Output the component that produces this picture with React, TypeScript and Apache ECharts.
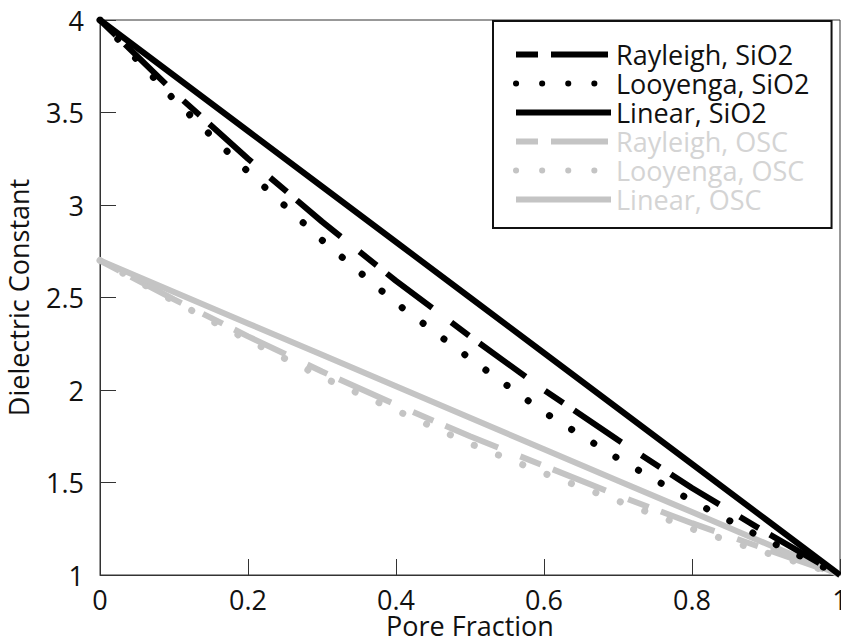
import React, { useEffect, useRef } from "react";
import * as echarts from "echarts";

const poreFraction = [0, 0.1, 0.2, 0.3, 0.4, 0.5, 0.6, 0.7, 0.8, 0.9, 1];
const rayleighSiO2 = [4, 3.61, 3.25, 2.91, 2.59, 2.29, 2.0, 1.73, 1.47, 1.23, 1];
const looyengaSiO2 = [4, 3.57, 3.18, 2.81, 2.47, 2.17, 1.88, 1.63, 1.4, 1.19, 1];
const linearSiO2 = [4, 3.7, 3.4, 3.1, 2.8, 2.5, 2.2, 1.9, 1.6, 1.3, 1];
const rayleighOSC = [2.7, 2.49, 2.29, 2.1, 1.92, 1.75, 1.59, 1.43, 1.28, 1.14, 1];
const looyengaOSC = [2.7, 2.48, 2.27, 2.07, 1.89, 1.71, 1.55, 1.4, 1.25, 1.12, 1];
const linearOSC = [2.7, 2.53, 2.36, 2.19, 2.02, 1.85, 1.68, 1.51, 1.34, 1.17, 1];

const seriesNames = [
  "Rayleigh, SiO2",
  "Looyenga, SiO2",
  "Linear, SiO2",
  "Rayleigh, OSC",
  "Looyenga, OSC",
  "Linear, OSC",
];

const FONT = "'Open Sans', 'Liberation Sans', sans-serif";
const BLACK = "#000000";
const GRAY = "#c4c4c4";
const GRAY_TEXT = "#d4d4d4";

const pairs = (ys: number[]) => poreFraction.map((x, i) => [x, ys[i]]);

export default function App() {
  const ref = useRef<HTMLDivElement>(null);
  useEffect(() => {
    if (!ref.current) return;
    const chart = echarts.init(ref.current, undefined, { renderer: "svg" });
    const rayleighDash = [22, 13, 57, 24];
    const dotDash = [0.1, 26];
    const mk = (name: string, ys: number[], color: string, type: any, cap: string, width: number) => ({
      name,
      type: "line",
      data: pairs(ys),
      symbol: "none",
      symbolSize: 0,
      showSymbol: false,
      lineStyle: { color, width, type, cap },
      itemStyle: { color },
      z: color === BLACK ? 3 : 2,
    });
    chart.setOption({
      animation: false,
      backgroundColor: "#ffffff",
      grid: {
        left: 100,
        right: 1,
        top: 20,
        bottom: 68,
        show: true,
        borderColor: "#333",
        borderWidth: 1,
        outerBoundsMode: "none",
        containLabel: false,
      },
      legend: {
        orient: "vertical",
        left: 493,
        top: 21,
        padding: [19, 22, 14, 20],
        itemWidth: 95,
        itemHeight: 8,
        itemGap: 0,
        itemTextGap: 12,
        backgroundColor: "#ffffff",
        borderColor: "#111",
        borderWidth: 2,
        borderRadius: 0,
        itemStyle: { opacity: 0 },
        lineStyle: { width: 6 },
        textStyle: { fontSize: 27, lineHeight: 29, fontFamily: FONT, color: BLACK },
        data: seriesNames.map((n, i) => ({
          name: n,
          textStyle: { color: i < 3 ? "#111" : GRAY_TEXT },
        })),
      },
      xAxis: {
        type: "value",
        min: 0,
        max: 1,
        interval: 0.2,
        name: "Pore Fraction",
        nameLocation: "middle",
        nameGap: 38,
        nameMoveOverlap: false,
        nameTextStyle: { fontSize: 27, lineHeight: 24, fontFamily: FONT, color: "#111" },
        axisLine: { show: true, onZero: false, lineStyle: { color: "#333", width: 1 } },
        axisTick: { show: true, inside: true, length: 16, lineStyle: { color: "#333", width: 1 } },
        axisLabel: { margin: 13, fontSize: 27, lineHeight: 22, fontFamily: FONT, color: "#111" },
        splitLine: { show: false },
      },
      yAxis: {
        type: "value",
        min: 1,
        max: 4,
        interval: 0.5,
        name: "Dielectric Constant",
        nameLocation: "middle",
        nameGap: 68,
        nameMoveOverlap: false,
        nameTextStyle: { fontSize: 27, fontFamily: FONT, color: "#111" },
        axisLine: { show: true, onZero: false, lineStyle: { color: "#333", width: 1 } },
        axisTick: { show: true, inside: true, length: 16, lineStyle: { color: "#333", width: 1 } },
        axisLabel: { margin: 16, fontSize: 27, fontFamily: FONT, color: "#111" },
        splitLine: { show: false },
      },
      series: [
        mk(seriesNames[0], rayleighSiO2, BLACK, rayleighDash, "butt", 6),
        mk(seriesNames[1], looyengaSiO2, BLACK, dotDash, "round", 7),
        mk(seriesNames[2], linearSiO2, BLACK, "solid", "butt", 6),
        mk(seriesNames[3], rayleighOSC, GRAY, rayleighDash, "butt", 6),
        mk(seriesNames[4], looyengaOSC, GRAY, dotDash, "round", 7),
        mk(seriesNames[5], linearOSC, GRAY, "solid", "butt", 6),
      ],
    });
    return () => chart.dispose();
  }, []);
  return (
    <div
      ref={ref}
      style={{ position: "absolute", left: 0, top: 0, width: 841, height: 643, background: "#fff" }}
    />
  );
}
